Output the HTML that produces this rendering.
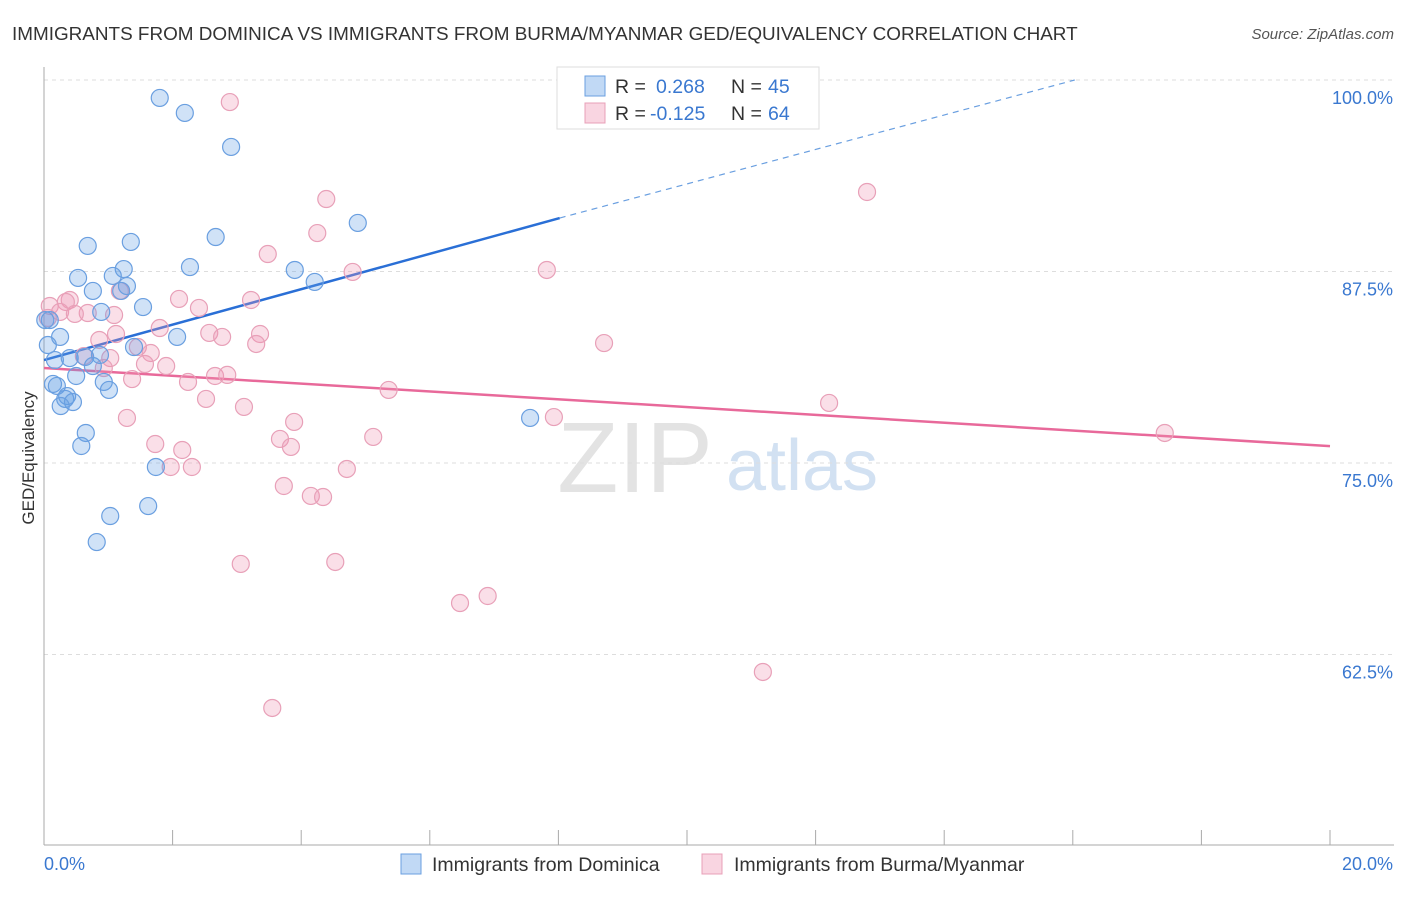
<!DOCTYPE html>
<html><head><meta charset="utf-8">
<style>
body{margin:0;background:#fff;font-family:"Liberation Sans",sans-serif;}
svg text{font-family:"Liberation Sans",sans-serif;}
</style></head>
<body>
<svg id="chart" width="1406" height="892" viewBox="0 0 1406 892" xmlns="http://www.w3.org/2000/svg">
<text x="12" y="40" font-size="18.9" fill="#333">IMMIGRANTS FROM DOMINICA VS IMMIGRANTS FROM BURMA/MYANMAR GED/EQUIVALENCY CORRELATION CHART</text>
<text x="1394" y="39" font-size="15" fill="#555" font-style="italic" text-anchor="end">Source: ZipAtlas.com</text>
<g>
<text x="635" y="492" font-size="100" fill="#ddd" font-family="Liberation Serif" text-anchor="middle" opacity="0.8">ZIP</text>
<text x="802" y="490" font-size="72" fill="#c8daf0" text-anchor="middle" opacity="0.8">atlas</text>
</g>
<g id="grid"></g>
<g id="axes"></g>
<g id="lines"></g>
<g id="pts"></g>
<text transform="translate(34,458) rotate(-90)" font-size="17" fill="#333" text-anchor="middle">GED/Equivalency</text>
<g>
<rect x="557" y="67" width="262" height="62" fill="#fff" stroke="#ddd"/>
<rect x="585" y="76" width="20" height="20" fill="rgba(100,160,230,0.4)" stroke="#6a9fe0"/>
<rect x="585" y="103" width="20" height="20" fill="rgba(240,150,180,0.4)" stroke="#e8a0b8"/>
<text x="615" y="93" font-size="19.5" fill="#333">R =</text>
<text x="656" y="93" font-size="19.5" fill="#3a78d0">0.268</text>
<text x="731" y="93" font-size="19.5" fill="#333">N =</text>
<text x="768" y="93" font-size="19.5" fill="#3a78d0">45</text>
<text x="615" y="120" font-size="19.5" fill="#333">R =</text>
<text x="650" y="120" font-size="19.5" fill="#3a78d0">-0.125</text>
<text x="731" y="120" font-size="19.5" fill="#333">N =</text>
<text x="768" y="120" font-size="19.5" fill="#3a78d0">64</text>
</g>
<g>
<rect x="401" y="854" width="20" height="20" fill="rgba(100,160,230,0.4)" stroke="#6a9fe0"/>
<text x="432" y="871" font-size="19.5" fill="#333">Immigrants from Dominica</text>
<rect x="702" y="854" width="20" height="20" fill="rgba(240,150,180,0.4)" stroke="#e8a0b8"/>
<text x="734" y="871" font-size="19.5" fill="#333">Immigrants from Burma/Myanmar</text>
</g>
</svg>
<script>
const blueX=[1.80,2.19,2.91,4.88,0.68,1.35,2.67,2.27,3.90,1.24,0.53,1.07,4.21,1.29,0.76,1.20,1.54,0.89,0.09,2.07,0.25,0.06,1.40,0.64,0.87,0.17,0.40,0.76,0.50,0.93,0.14,0.20,1.01,0.36,0.33,0.45,0.26,0.65,0.58,7.56,1.74,1.62,1.03,0.82,0.02];
const blueY=[98.83,97.85,95.63,90.67,89.17,89.43,89.75,87.79,87.60,87.66,87.08,87.21,86.82,86.55,86.23,86.23,85.18,84.86,84.33,83.23,83.23,82.70,82.57,81.92,82.05,81.72,81.85,81.33,80.68,80.29,80.16,80.03,79.77,79.37,79.18,78.98,78.72,76.96,76.11,77.94,74.74,72.19,71.54,69.84,84.33];
const pinkX=[9.97,2.89,12.80,4.39,4.25,3.48,7.82,4.80,1.18,2.10,3.22,0.40,0.34,0.09,2.41,0.25,0.68,1.09,0.06,0.48,1.80,1.12,2.57,2.77,3.36,0.86,3.30,8.71,1.46,1.66,1.03,0.62,1.57,1.90,0.93,2.66,2.85,1.37,2.24,5.36,2.52,3.11,12.21,1.29,7.93,3.89,5.12,3.67,3.84,1.73,2.15,17.43,1.97,2.30,4.71,3.73,4.15,4.34,3.06,4.53,6.90,6.47,11.18,3.55];
const pinkY=[100.13,98.56,92.69,92.23,90.01,88.64,87.60,87.47,86.23,85.71,85.64,85.64,85.51,85.25,85.12,84.86,84.79,84.66,84.47,84.73,83.81,83.42,83.49,83.23,83.42,83.03,82.77,82.83,82.57,82.18,81.85,81.98,81.46,81.33,81.20,80.68,80.75,80.48,80.29,79.77,79.18,78.66,78.92,77.94,78.00,77.68,76.70,76.57,76.05,76.24,75.85,76.96,74.74,74.74,74.61,73.50,72.85,72.78,68.41,68.54,66.32,65.86,61.36,59.01];
const yTicks=[100,87.5,75,62.5];
const yTickLabels=["100.0%","87.5%","75.0%","62.5%"];
const xTickLabels=["0.0%","20.0%"];
const blueTrend=[[0,81.72],[8.02,90.99],[16.03,100]];
const pinkTrend=[[0,81.2],[20,76.1]];
const NS="http://www.w3.org/2000/svg";
const X0=44,X1=1330,YTOP=80,PX_PER=191.5/12.5;
function sx(v){return X0+(v/20)*(X1-X0);}
function sy(v){return YTOP+(100-v)*PX_PER;}
function mk(tag,attrs,parent){const e=document.createElementNS(NS,tag);for(const k in attrs)e.setAttribute(k,attrs[k]);parent.appendChild(e);return e;}
const grid=document.getElementById('grid'),axes=document.getElementById('axes'),lines=document.getElementById('lines'),pts=document.getElementById('pts');
yTicks.forEach((t,i)=>{
 const l=mk('line',{x1:X0,x2:1394,y1:sy(t),y2:sy(t),stroke:'#ddd','stroke-dasharray':'4,4'},grid);
 
 
 const tx=mk('text',{x:1393,y:sy(t)+24,'font-size':18,fill:'#3a78d0','text-anchor':'end'},axes);
 tx.textContent=yTickLabels[i];
 
 
});
const ya=mk('line',{x1:X0,x2:X0,y1:67,y2:845,stroke:'#aaa'},axes);


const xa=mk('line',{x1:X0,x2:1394,y1:845,y2:845,stroke:'#aaa'},axes);


for(let i=0;i<=10;i++){
 const t=mk('line',{x1:sx(i*2),x2:sx(i*2),y1:830,y2:845,stroke:'#aaa'},axes);
 
 
}
const xl0=mk('text',{x:44,y:870,'font-size':18,fill:'#3a78d0'},axes);xl0.textContent=xTickLabels[0];


const xl1=mk('text',{x:1393,y:870,'font-size':18,fill:'#3a78d0','text-anchor':'end'},axes);xl1.textContent=xTickLabels[1];


function dots(xs,ys,fill,stroke,name){
 xs.forEach((x,i)=>{
  const c=mk('circle',{cx:sx(x),cy:sy(ys[i]),r:8.5,fill:fill,stroke:stroke,'stroke-width':1.2},pts);
  
  
 });
}
dots(pinkX,pinkY,'rgba(240,150,180,0.3)','#e8a0b8','burma-point');
dots(blueX,blueY,'rgba(100,160,230,0.3)','#6a9fe0','dominica-point');
const b1=mk('line',{x1:sx(blueTrend[0][0]),y1:sy(blueTrend[0][1]),x2:sx(blueTrend[1][0]),y2:sy(blueTrend[1][1]),stroke:'#2a6fd6','stroke-width':2.5},lines);


const b2=mk('line',{x1:sx(blueTrend[1][0]),y1:sy(blueTrend[1][1]),x2:sx(blueTrend[2][0]),y2:sy(blueTrend[2][1]),stroke:'#6a9fe0','stroke-width':1.2,'stroke-dasharray':'6,5'},lines);


const p1=mk('line',{x1:sx(pinkTrend[0][0]),y1:sy(pinkTrend[0][1]),x2:sx(pinkTrend[1][0]),y2:sy(pinkTrend[1][1]),stroke:'#e8699a','stroke-width':2.5},lines);


</script>
</body></html>
